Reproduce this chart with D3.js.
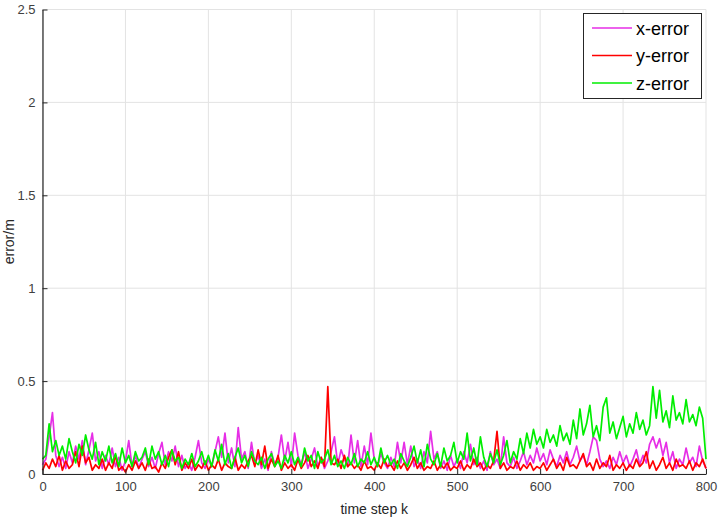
<!DOCTYPE html>
<html>
<head>
<meta charset="utf-8">
<script src="https://cdn.jsdelivr.net/npm/d3@7/dist/d3.min.js"></script>
<style>
html,body{margin:0;padding:0;background:#fff;}
svg{display:block;font-family:"Liberation Sans",Arial,sans-serif;}
</style>
</head>
<body>
<svg id="chart" width="720" height="520"></svg>
<script>
// sampled every 4 time steps, k = 0..800
const stepK = 4;
const xError = [
0.05,0.08,0.20,0.33,0.10,0.04,0.09,0.03,0.12,0.06,0.15,0.08,0.18,0.05,0.13,0.22,0.07,0.12,0.03,0.10,0.05,0.14,0.04,0.09,0.02,
0.07,0.18,0.04,0.10,0.03,0.08,0.12,0.04,0.09,0.03,0.11,0.17,0.05,0.12,0.07,0.15,0.04,0.10,0.03,0.06,0.02,0.09,0.18,0.06,0.03,
0.08,0.04,0.12,0.20,0.09,0.22,0.06,0.14,0.04,0.25,0.08,0.12,0.03,0.17,0.05,0.10,0.03,0.08,0.02,0.12,0.05,0.09,0.21,0.07,0.17,
0.04,0.22,0.10,0.05,0.12,0.03,0.08,0.14,0.04,0.09,0.03,0.07,0.12,0.20,0.05,0.13,0.08,0.04,0.21,0.06,0.18,0.04,0.15,0.05,0.22,
0.08,0.04,0.11,0.06,0.03,0.09,0.04,0.17,0.06,0.17,0.05,0.15,0.04,0.08,0.03,0.12,0.06,0.23,0.08,0.12,0.03,0.07,0.02,0.10,0.04,
0.08,0.03,0.12,0.06,0.16,0.05,0.09,0.03,0.07,0.02,0.12,0.05,0.08,0.03,0.20,0.06,0.04,0.09,0.03,0.07,0.12,0.05,0.10,0.06,0.14,
0.07,0.11,0.05,0.13,0.08,0.04,0.10,0.06,0.12,0.05,0.09,0.15,0.07,0.10,0.05,0.12,0.20,0.18,0.08,0.04,0.07,0.03,0.09,0.05,0.12,
0.06,0.10,0.04,0.08,0.13,0.05,0.10,0.06,0.16,0.20,0.14,0.19,0.10,0.17,0.06,0.12,0.03,0.08,0.05,0.14,0.06,0.09,0.04,0.15,0.07,0.03
];
const yError = [
0.02,0.06,0.03,0.08,0.04,0.10,0.02,0.07,0.03,0.05,0.12,0.04,0.15,0.06,0.09,0.02,0.05,0.03,0.08,0.02,0.06,0.03,0.10,0.02,0.04,
0.01,0.05,0.02,0.07,0.03,0.06,0.02,0.08,0.03,0.04,0.01,0.06,0.03,0.09,0.13,0.05,0.12,0.02,0.06,0.03,0.08,0.02,0.05,0.03,0.07,
0.02,0.05,0.03,0.08,0.02,0.06,0.04,0.03,0.09,0.02,0.05,0.03,0.07,0.10,0.04,0.13,0.05,0.15,0.03,0.08,0.04,0.10,0.02,0.06,0.03,
0.05,0.02,0.08,0.03,0.06,0.10,0.04,0.07,0.03,0.09,0.04,0.47,0.06,0.05,0.08,0.03,0.10,0.04,0.06,0.03,0.05,0.02,0.07,0.03,0.04,
0.02,0.06,0.03,0.08,0.04,0.05,0.02,0.07,0.03,0.06,0.02,0.05,0.09,0.03,0.06,0.02,0.04,0.03,0.07,0.02,0.05,0.03,0.06,0.02,0.04,
0.03,0.07,0.02,0.05,0.03,0.08,0.04,0.06,0.02,0.05,0.03,0.07,0.23,0.03,0.06,0.02,0.04,0.03,0.07,0.02,0.05,0.03,0.06,0.02,0.04,
0.03,0.06,0.02,0.05,0.08,0.03,0.06,0.02,0.09,0.04,0.05,0.03,0.07,0.11,0.04,0.06,0.02,0.08,0.03,0.06,0.04,0.10,0.02,0.05,0.03,
0.06,0.02,0.05,0.03,0.08,0.04,0.06,0.12,0.03,0.07,0.02,0.05,0.09,0.03,0.06,0.02,0.08,0.04,0.05,0.03,0.07,0.02,0.06,0.04,0.08,0.03
];
const zError = [
0.08,0.10,0.27,0.12,0.18,0.10,0.15,0.08,0.19,0.12,0.06,0.16,0.10,0.21,0.13,0.08,0.17,0.05,0.12,0.07,0.15,0.06,0.11,0.04,0.14,
0.06,0.10,0.04,0.12,0.07,0.09,0.14,0.05,0.15,0.08,0.12,0.05,0.10,0.04,0.13,0.07,0.09,0.03,0.08,0.05,0.11,0.04,0.07,0.12,0.05,
0.10,0.04,0.13,0.07,0.16,0.05,0.11,0.03,0.09,0.14,0.06,0.10,0.04,0.12,0.07,0.05,0.09,0.03,0.08,0.11,0.04,0.07,0.03,0.10,0.06,
0.12,0.05,0.09,0.04,0.14,0.07,0.10,0.03,0.12,0.06,0.08,0.13,0.05,0.10,0.04,0.07,0.03,0.09,0.05,0.11,0.04,0.08,0.06,0.12,0.05,
0.09,0.04,0.14,0.06,0.10,0.05,0.08,0.03,0.11,0.07,0.04,0.09,0.15,0.06,0.13,0.04,0.16,0.08,0.05,0.11,0.04,0.14,0.07,0.10,0.17,
0.06,0.12,0.08,0.22,0.07,0.14,0.05,0.20,0.09,0.04,0.11,0.06,0.13,0.05,0.10,0.18,0.06,0.12,0.08,0.19,0.11,0.22,0.14,0.24,0.16,
0.20,0.14,0.24,0.17,0.21,0.15,0.26,0.18,0.22,0.16,0.29,0.19,0.35,0.21,0.27,0.37,0.20,0.26,0.18,0.36,0.41,0.22,0.28,0.19,0.25,
0.31,0.20,0.27,0.22,0.33,0.24,0.29,0.21,0.26,0.47,0.30,0.45,0.28,0.34,0.25,0.42,0.29,0.33,0.27,0.40,0.28,0.32,0.26,0.36,0.30,0.08
];
const seriesNames = ["x-error", "y-error", "z-error"];
const seriesColors = ["#e62ee6", "#ff0000", "#00ee00"];
const xTicks = [0, 100, 200, 300, 400, 500, 600, 700, 800];
const yTicks = [0, 0.5, 1, 1.5, 2, 2.5];

const svg = d3.select("#chart");
const mLeft = 42.5, mRight = 706, mTop = 9.5, mBottom = 474;
const x = d3.scaleLinear().domain([0, 800]).range([mLeft, mRight]);
const y = d3.scaleLinear().domain([0, 2.5]).range([mBottom, mTop]);

// grid
const g = svg.append("g");
g.selectAll(".vg").data(xTicks).enter().append("line")
  .attr("x1", d => x(d)).attr("x2", d => x(d)).attr("y1", mTop).attr("y2", mBottom)
  .attr("stroke", "#e3e3e3").attr("stroke-width", 1);
g.selectAll(".hg").data(yTicks).enter().append("line")
  .attr("x1", mLeft).attr("x2", mRight).attr("y1", d => y(d)).attr("y2", d => y(d))
  .attr("stroke", "#e3e3e3").attr("stroke-width", 1);

// lines
const allSeries = [xError, yError, zError];
const line = d3.line().x((d, i) => x(i * stepK)).y(d => y(d));
allSeries.forEach((s, j) => {
  svg.append("path").datum(s).attr("d", line)
    .attr("fill", "none").attr("stroke", seriesColors[j])
    .attr("stroke-width", 1.7).attr("stroke-linejoin", "round");
});

// axes
const xAxis = d3.axisBottom(x).tickValues(xTicks).tickSizeInner(-5).tickSizeOuter(0).tickPadding(8).tickFormat(d3.format("d"));
const yAxis = d3.axisLeft(y).tickValues(yTicks).tickSizeInner(-5).tickSizeOuter(0).tickPadding(7).tickFormat(d => String(d));
const gx = svg.append("g").attr("transform", `translate(0,${mBottom})`).call(xAxis);
const gy = svg.append("g").attr("transform", `translate(${mLeft},0)`).call(yAxis);
[gx, gy].forEach(a => {
  a.select(".domain").attr("stroke", "#262626").attr("stroke-width", 1.2);
  a.selectAll(".tick line").attr("stroke", "#262626");
  a.selectAll(".tick text").attr("fill", "#404040").style("font-size", "13px").style("font-family", "Liberation Sans, Arial, sans-serif");
});

// labels
svg.append("text").attr("x", (mLeft + mRight) / 2).attr("y", 514).attr("text-anchor", "middle")
  .attr("fill", "#262626").style("font-size", "14px").text("time step k");
svg.append("text").attr("transform", `translate(14,${(mTop + mBottom) / 2}) rotate(-90)`).attr("text-anchor", "middle")
  .attr("fill", "#262626").style("font-size", "14px").text("error/m");

// legend
const lg = svg.append("g");
lg.append("rect").attr("x", 583.5).attr("y", 13.5).attr("width", 118).attr("height", 85)
  .attr("fill", "#fff").attr("stroke", "#262626").attr("stroke-width", 1);
seriesNames.forEach((n, j) => {
  const yy = 28 + j * 27.5;
  lg.append("line").attr("x1", 592).attr("x2", 632).attr("y1", yy).attr("y2", yy)
    .attr("stroke", seriesColors[j]).attr("stroke-width", 1.4);
  lg.append("text").attr("x", 636).attr("y", yy + 6.5).attr("fill", "#000")
    .style("font-size", "18px").text(n);
});
</script>
</body>
</html>
